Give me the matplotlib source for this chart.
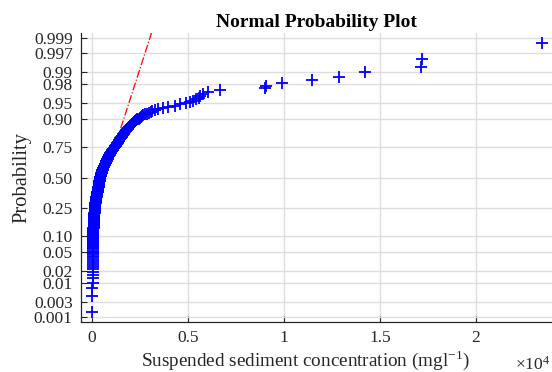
import matplotlib
matplotlib.use('Agg')
import matplotlib.pyplot as plt
import numpy as np
from statistics import NormalDist

# sorted suspended sediment concentrations (mg/l)
conc_low = [15, 20, 25, 28, 30, 32, 34, 36, 38, 40,
            41, 42, 43, 44, 45, 46, 47, 48, 49, 50,
            51, 52, 53, 54, 55, 56, 57, 58, 60, 61,
            62, 63, 64, 65, 66, 67, 68, 69, 70, 72,
            73, 74, 75, 76, 77, 78, 79, 80, 82, 83,
            84, 85, 86, 88, 90, 92, 94, 96, 98, 100,
            102, 104, 106, 108, 110, 112, 114, 116, 118, 120,
            122, 124, 126, 128, 130, 132, 134, 136, 138, 140,
            142, 144, 146, 148, 150, 152, 154, 156, 158, 160,
            162, 164, 166, 168, 170, 172, 174, 176, 178, 180]
conc_mid = [183, 186, 189, 192, 195, 198, 201, 204, 207, 210,
            214, 218, 222, 226, 230, 234, 238, 242, 246, 250,
            254, 258, 262, 266, 270, 274, 278, 282, 286, 290,
            294, 298, 302, 306, 310, 314, 318, 322, 326, 330,
            332, 334, 336, 338, 340, 342, 344, 346, 348, 350,
            352, 355, 358, 361, 364, 367, 370, 373, 376, 379,
            382, 385, 388, 391, 394, 397, 400, 404, 408, 412,
            416, 420, 424, 428, 432, 436, 440, 445, 450, 455,
            460, 465, 470, 475, 480, 485, 490, 495, 500, 505,
            510, 515, 520, 525, 530, 535, 540, 548, 556, 564]
conc_high = [572, 580, 588, 596, 604, 612, 620, 630, 640, 650,
             658, 666, 674, 682, 690, 698, 706, 714, 722, 730,
             738, 746, 754, 762, 770, 778, 786, 794, 802, 810,
             818, 826, 834, 842, 850, 860, 870, 880, 890, 900,
             912, 924, 936, 948, 960, 972, 984, 996, 1010, 1025,
             1040, 1055, 1070, 1085, 1100, 1115, 1130, 1145, 1160, 1175,
             1190, 1205, 1220, 1235, 1250, 1265, 1280, 1295, 1310, 1325,
             1340, 1355, 1370, 1385, 1400, 1415, 1430, 1445, 1460, 1475,
             1490, 1505, 1520, 1540, 1560, 1580, 1600, 1620, 1640, 1660,
             1680, 1700, 1720, 1745, 1770, 1795, 1820, 1845, 1870, 1895,
             1920, 1950, 1980, 2010, 2040, 2070, 2100, 2140, 2180, 2220,
             2260, 2300, 2350]
conc_tail = [2450, 2500, 2560, 2620, 2680, 2750, 2850, 2950, 3050, 3150,
             3300, 3450, 3700, 3970, 4300, 4580, 4900, 5100, 5250, 5400,
             5550, 5650, 5800, 6060, 6670, 9000, 9050, 9880, 11480, 12870,
             14220, 17150, 17200, 23440]

prob_ticks = [0.001, 0.003, 0.01, 0.02, 0.05, 0.10, 0.25, 0.50,
              0.75, 0.90, 0.95, 0.98, 0.99, 0.997, 0.999]
prob_labels = ['0.001', '0.003', '0.01', '0.02', '0.05', '0.10', '0.25', '0.50',
               '0.75', '0.90', '0.95', '0.98', '0.99', '0.997', '0.999']
x_ticks = [0, 5000, 10000, 15000, 20000]
x_labels = ['0', '0.5', '1', '1.5', '2']

nd = NormalDist()
x = np.sort(np.array(conc_low + conc_mid + conc_high + conc_tail, dtype=float))
n = len(x)
z = np.array([nd.inv_cdf((i - 0.5) / n) for i in range(1, n + 1)])

# reference line through the quartiles (like normplot)
q1, q3 = np.percentile(x, [25, 75])
z1, z3 = nd.inv_cdf(0.25), nd.inv_cdf(0.75)
slope = (z3 - z1) / (q3 - q1)
xl = np.array([x.min(), x.max()])
yl = z1 + slope * (xl - q1)

plt.rcParams['font.family'] = 'Liberation Serif'
fig = plt.figure(figsize=(5.52, 3.72), dpi=100)
ax = fig.add_axes([81/552, 50/372, 471/552, 289/372])

ax.plot(xl, yl, color='red', ls='-.', lw=0.9, zorder=2)
ax.plot([q1, q3], [z1, z3], color='red', ls='-', lw=0.9, zorder=2)
ax.plot(x, z, '+', color='blue', ms=8.6, mew=1.3, zorder=3)

ax.set_xlim(-573, 23960)
ax.set_ylim(-3.19, 3.19)
ax.set_xticks(x_ticks)
ax.set_xticklabels(x_labels)
ax.set_yticks([nd.inv_cdf(p) for p in prob_ticks])
ax.set_yticklabels(prob_labels)
ax.tick_params(direction='in', length=4, width=0.8, labelsize=12.5,
               colors='#262626', labelcolor='#262626')
ax.tick_params(axis='y', pad=6)
ax.tick_params(axis='x', pad=6)
ax.grid(True, color='#dedede', lw=1)
ax.set_axisbelow(True)
for s in ['top', 'right']:
    ax.spines[s].set_visible(False)
for s in ['left', 'bottom']:
    ax.spines[s].set_color('#262626')
    ax.spines[s].set_linewidth(0.9)

ax.set_title('Normal Probability Plot', fontsize=14, fontweight='bold', pad=4)
ax.set_xlabel('Suspended sediment concentration (mgl$^{\\mathregular{-1}}$)',
              fontsize=13.8, labelpad=0, color='#262626')
ax.xaxis.set_label_coords(0.476, -0.09)
ax.set_ylabel('Probability', fontsize=14.8, labelpad=2, color='#262626')
fig.text(0.997, -0.004, '$\\mathregular{\\times10^4}$', ha='right', va='bottom',
         fontsize=12.5, color='#262626')

fig.savefig('out.png', dpi=100)
